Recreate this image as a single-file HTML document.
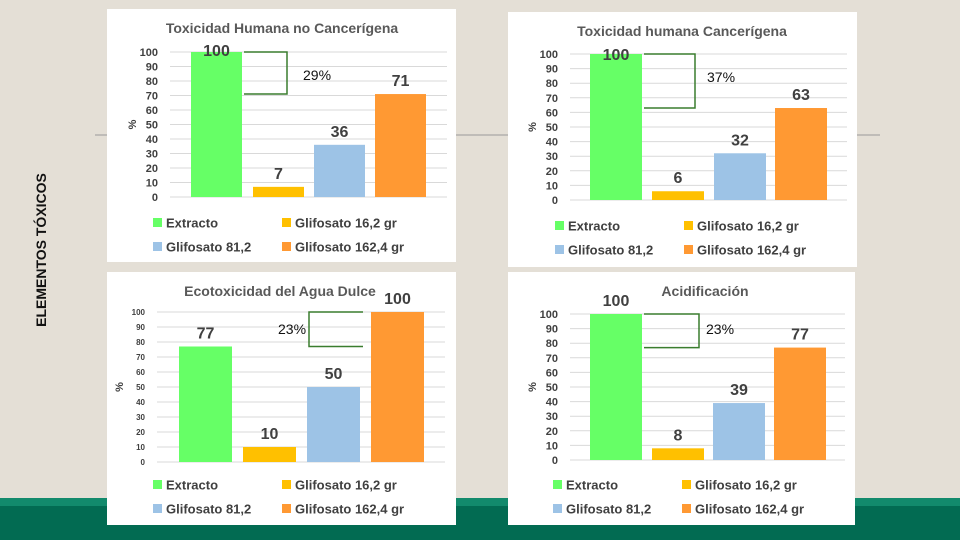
<!DOCTYPE html>
<html><head><meta charset="utf-8">
<style>
html,body{margin:0;padding:0;width:960px;height:540px;overflow:hidden;background:#e4dfd6;font-family:"Liberation Sans",sans-serif}
svg{position:absolute;left:0;top:0}
</style></head>
<body>
<svg id="s" width="960" height="540" xmlns="http://www.w3.org/2000/svg">
<rect x="0" y="498" width="960" height="8" fill="#128a6c"/>
<rect x="0" y="506" width="960" height="34" fill="#026b52"/>
<line x1="95" y1="135" x2="880" y2="135" stroke="#9a9a9a" stroke-width="1"/>
<text x="46" y="250" transform="rotate(-90 46 250)" text-anchor="middle" font-size="14" font-weight="bold" fill="#111">ELEMENTOS TÓXICOS</text>
</svg>
<script>
const series = ["Extracto","Glifosato 16,2 gr","Glifosato 81,2","Glifosato 162,4 gr"];
const colors = ["#66ff66","#ffc000","#9dc3e6","#ff9933"];
const ticks = [0,10,20,30,40,50,60,70,80,90,100];
const titles = ["Toxicidad Humana no Cancerígena","Toxicidad humana  Cancerígena","Ecotoxicidad  del Agua Dulce","Acidificación"];
const valsA = [100,7,36,71];
const valsB = [100,6,32,63];
const valsC = [77,10,50,100];
const valsD = [100,8,39,77];
const notes = ["29%","37%","23%","23%"];

const NS="http://www.w3.org/2000/svg";
const svg=document.getElementById('s');
function mk(tag,attrs,parent){const e=document.createElementNS(NS,tag);for(const k in attrs)e.setAttribute(k,attrs[k]);(parent||svg).appendChild(e);return e;}

const panels=[
 {vals:valsA,px:107,py:9,pw:349,ph:253,y0:197,y100:52,ax0:170,ax1:447,bx:[191,253,314,375],bw:51,tx:282,ty:33,tick:11,cap:56,leg:[223,247],lx:[158,287],bi:0,bj:3,bra:[244,287],nx:303,ny:80},
 {vals:valsB,px:508,py:12,pw:349,ph:255,y0:200,y100:54,ax0:570,ax1:847,bx:[590,652,714,775],bw:52,tx:682,ty:36,tick:11,cap:60,leg:[226,250],lx:[560,689],bi:0,bj:3,bra:[644,695],nx:707,ny:82},
 {vals:valsC,px:107,py:272,pw:349,ph:253,y0:462,y100:312,ax0:157,ax1:445,bx:[179,243,307,371],bw:53,tx:280,ty:296,tick:8,cap:0,leg:[485,509],lx:[158,287],bi:3,bj:0,bra:[363,309],nx:278,ny:334,left:true},
 {vals:valsD,px:508,py:272,pw:347,ph:253,y0:460,y100:314,ax0:570,ax1:845,bx:[590,652,713,774],bw:52,tx:705,ty:296,tick:11,cap:0,leg:[485,509],lx:[558,687],bi:0,bj:3,bra:[644,699],nx:706,ny:334},
];

panels.forEach((p,pi)=>{
 const g=mk('g',{});
 
 
 const bg=mk('rect',{x:p.px,y:p.py,width:p.pw,height:p.ph,fill:'#ffffff'},g);
 
 
 const yS=v=>p.y0-(p.y0-p.y100)*v/100;
 ticks.forEach(t=>{
  const l=mk('line',{x1:p.ax0,x2:p.ax1,y1:yS(t),y2:yS(t),stroke:'#d9d9d9','stroke-width':1},g);
  
  
  const tx=mk('text',{x:p.ax0-12,y:yS(t)+p.tick*0.36,'text-anchor':'end','font-size':p.tick,'font-weight':'bold',fill:'#404040'},g);
  tx.textContent=t;
  
  
 });
 const yl=mk('text',{x:p.ax0-38,y:(p.y0+p.y100)/2+4,'text-anchor':'middle','font-size':11,'font-weight':'bold',fill:'#404040',transform:`rotate(-90 ${p.ax0-38} ${(p.y0+p.y100)/2})`},g);
 yl.textContent='%';
 
 
 const ti=mk('text',{x:p.tx,y:p.ty,'text-anchor':'middle','font-size':14,'font-weight':'bold',fill:'#595959'},g);
 ti.textContent=titles[pi];
 
 
 p.vals.forEach((v,i)=>{
  const r=mk('rect',{x:p.bx[i],y:yS(v),width:p.bw,height:p.y0-yS(v),fill:colors[i]},g);
  
  
  let ly=Math.max(yS(v)-8,p.cap||0);
  const vt=mk('text',{x:p.bx[i]+p.bw/2,y:ly,'text-anchor':'middle','font-size':16,'font-weight':'bold',fill:'#404040'},g);
  vt.textContent=v;
  
  
 });
 // bracket annotation
 const yt=yS(p.vals[p.bi]), yb=yS(p.vals[p.bj]);
 const [b0,b1]=p.bra;
 const br=mk('path',{d:`M${b0} ${yt} L${b1} ${yt} L${b1} ${yb} L${b0} ${yb}`,fill:'none',stroke:'#3a7d2e','stroke-width':1.5},g);
 
 
 const nt=mk('text',{x:p.nx,y:p.ny,'font-size':14,fill:'#111'},g);
 nt.textContent=notes[pi];
 
 
 series.forEach((s,i)=>{
  const lx=p.lx[i%2], ly=p.leg[Math.floor(i/2)];
  const m=mk('rect',{x:lx-5,y:ly-5,width:9,height:9,fill:colors[i]},g);
  
  
  const t=mk('text',{x:lx+8,y:ly+4.5,'font-size':13,'font-weight':'bold',fill:'#404040'},g);
  t.textContent=s;
  
  
 });
});
</script>
</body></html>
